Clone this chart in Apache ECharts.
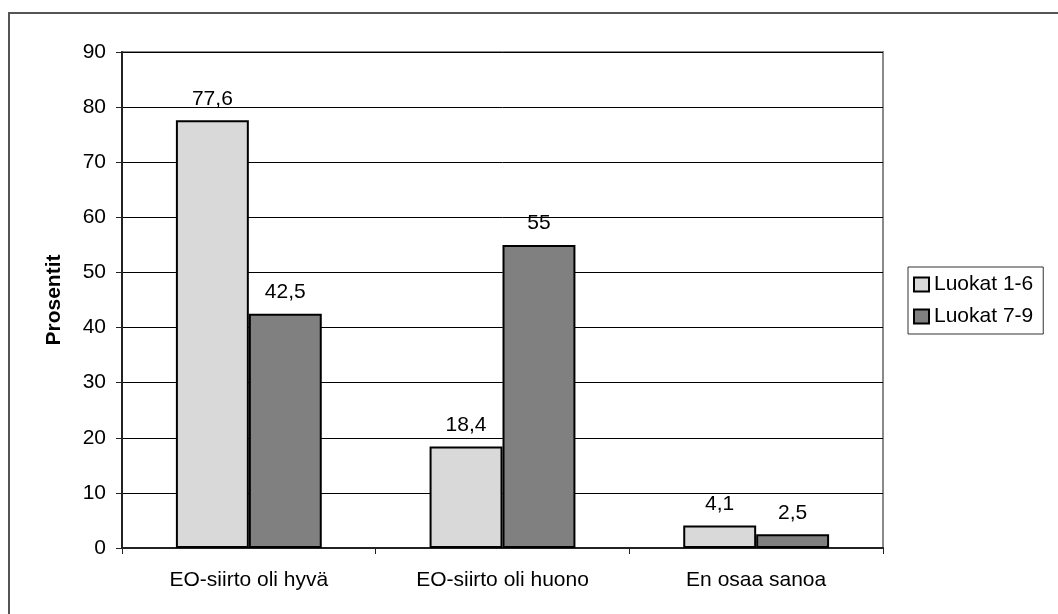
<!DOCTYPE html>
<html>
<head>
<meta charset="utf-8">
<script src="https://cdn.jsdelivr.net/npm/echarts@6/dist/echarts.min.js"></script>
<style>
  html, body { margin: 0; padding: 0; background: #fff; }
  #chart { width: 1058px; height: 614px; }
</style>
</head>
<body>
<div id="chart"></div>
<script>
// Survey answers by grade group (percent)
const categories = ['EO-siirto oli hyvä', 'EO-siirto oli huono', 'En osaa sanoa'];
const seriesNames = ['Luokat 1-6', 'Luokat 7-9'];
const grades1to6 = [77.6, 18.4, 4.1];
const grades7to9 = [42.5, 55, 2.5];
const yTicks = [0, 10, 20, 30, 40, 50, 60, 70, 80, 90];

const FONT = '"Liberation Sans", Arial, sans-serif';
const FS = 21;
const commaLabel = p => String(p.value).replace('.', ',');

const chart = echarts.init(document.getElementById('chart'), null, { renderer: 'canvas' });

function barSeries(name, data, color) {
  return {
    name: name,
    type: 'bar',
    data: data,
    barGap: '0%',
    barCategoryGap: '42.5%',
    itemStyle: { color: color, borderColor: '#000', borderWidth: 2 },
    label: {
      show: true,
      position: 'top',
      distance: 11,
      formatter: commaLabel,
      color: '#000',
      fontFamily: FONT,
      fontSize: FS
    }
  };
}

chart.setOption({
  animation: false,
  backgroundColor: '#fff',
  textStyle: { fontFamily: FONT },
  graphic: [
    {
      type: 'polyline',
      silent: true,
      shape: { points: [[9, 614], [9, 13], [1058, 13]] },
      style: { stroke: '#555', lineWidth: 2, fill: null }
    }
  ],
  grid: {
    left: 122,
    right: 175,
    top: 52,
    bottom: 66,
    show: true,
    borderColor: '#8a8a8a',
    borderWidth: 2,
    backgroundColor: 'transparent'
  },
  legend: {
    orient: 'vertical',
    left: 908,
    top: 267,
    padding: [7, 10, 7, 5],
    itemGap: 11,
    itemWidth: 15,
    itemHeight: 14,
    icon: 'rect',
    borderColor: '#333',
    borderWidth: 1,
    backgroundColor: '#fff',
    textStyle: { fontFamily: FONT, fontSize: FS, color: '#000' },
    data: seriesNames
  },
  xAxis: {
    type: 'category',
    data: categories,
    axisLine: { show: true, lineStyle: { color: '#222', width: 2 } },
    axisTick: { show: true, length: 6, lineStyle: { color: '#222', width: 1 } },
    axisLabel: { color: '#000', fontFamily: FONT, fontSize: FS, margin: 22 },
    splitLine: { show: false }
  },
  yAxis: {
    type: 'value',
    min: yTicks[0],
    max: yTicks[yTicks.length - 1],
    interval: yTicks[1] - yTicks[0],
    name: 'Prosentit',
    nameLocation: 'middle',
    nameRotate: 90,
    nameGap: 57,
    nameTextStyle: { fontFamily: FONT, fontSize: FS, fontWeight: 'bold', color: '#000' },
    axisLine: { show: true, lineStyle: { color: '#222', width: 2 } },
    axisTick: { show: true, length: 6, lineStyle: { color: '#222', width: 1 } },
    axisLabel: { color: '#000', fontFamily: FONT, fontSize: FS, margin: 16 },
    splitLine: { show: true, lineStyle: { color: '#000', width: 1 } }
  },
  series: [
    barSeries(seriesNames[0], grades1to6, '#d9d9d9'),
    barSeries(seriesNames[1], grades7to9, '#808080')
  ]
});
</script>
</body>
</html>
